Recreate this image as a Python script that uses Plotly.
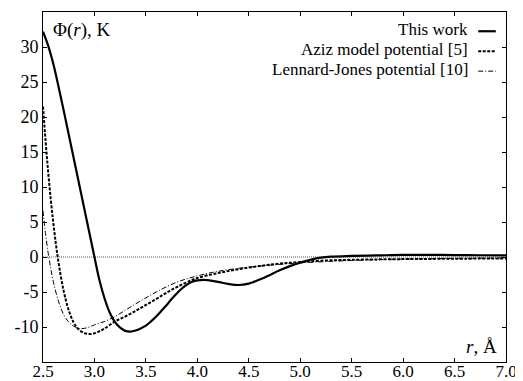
import plotly.graph_objects as go

# ---- data ----
r_this = [2.5, 2.55, 2.6, 2.65, 2.7, 2.75, 2.8, 2.85, 2.9, 2.95, 3.0, 3.05, 3.1, 3.15,
          3.2, 3.25, 3.3, 3.35, 3.4, 3.45, 3.5, 3.55, 3.6, 3.65, 3.7, 3.75, 3.8, 3.85, 3.9, 3.95,
          4.0, 4.1, 4.2, 4.3, 4.4, 4.5, 4.55, 4.6, 4.65, 4.7, 4.8, 4.9, 5.0, 5.1, 5.2, 5.3,
          5.5, 5.75, 6.0, 6.25, 6.5, 6.75, 7.0]
phi_this = [32.2, 30.2, 27.6, 24.4, 21.0, 17.5, 14.0, 10.5, 7.0, 3.5, 0.0, -3.4, -6.0, -8.0,
            -9.3, -10.1, -10.55, -10.65, -10.5, -10.2, -9.8, -9.2, -8.5, -7.7, -6.9, -6.0, -5.2, -4.5, -3.95, -3.55,
            -3.35, -3.3, -3.55, -3.85, -4.0, -3.8, -3.55, -3.25, -2.95, -2.6, -1.9, -1.3, -0.8, -0.4, -0.1, 0.05,
            0.15, 0.22, 0.3, 0.3, 0.28, 0.25, 0.22]

r_aziz = [2.5, 2.525, 2.55, 2.575, 2.6, 2.625, 2.65, 2.7, 2.75, 2.8, 2.85, 2.9, 2.95, 3.0,
          3.05, 3.1, 3.2, 3.3, 3.4, 3.5, 3.6, 3.7, 3.8, 3.9, 4.0, 4.2, 4.4, 4.6, 4.8, 5.0,
          5.25, 5.5, 6.0, 6.5, 7.0]
phi_aziz = [21.5, 16.6, 12.2, 8.3, 4.9, 1.9, -0.7, -4.8, -7.6, -9.4, -10.4, -10.85, -11.0, -10.9,
            -10.6, -10.2, -9.2, -8.5, -7.7, -6.85, -6.0, -5.1, -4.3, -3.6, -3.0, -2.3, -1.75, -1.3, -0.95, -0.72,
            -0.5, -0.4, -0.3, -0.25, -0.2]

r_lj = [2.5, 2.525, 2.55, 2.575, 2.6, 2.65, 2.7, 2.75, 2.8, 2.85, 2.9, 2.95, 3.0, 3.1,
        3.2, 3.3, 3.4, 3.5, 3.6, 3.8, 4.0, 4.2, 4.5, 5.0, 5.5, 6.0, 6.5, 7.0]
phi_lj = [6.6, 3.3, 0.6, -1.6, -3.5, -6.3, -8.2, -9.3, -9.9, -10.2, -10.2, -10.0, -9.7, -9.2,
          -8.5, -7.6, -6.7, -5.85, -5.0, -3.6, -2.7, -2.05, -1.45, -0.85, -0.5, -0.3, -0.2, -0.15]

x_ticks = [2.5, 3.0, 3.5, 4.0, 4.5, 5.0, 5.5, 6.0, 6.5, 7.0]
x_tick_text = ["2.5", "3.0", "3.5", "4.0", "4.5", "5.0", "5.5", "6.0", "6.5", "7.0"]
y_ticks = [-10, -5, 0, 5, 10, 15, 20, 25, 30]
y_tick_text = ["-10", "-5", "0", "5", "10", "15", "20", "25", "30"]

series_names = ["This work", "Aziz model potential [5]", "Lennard-Jones potential [10]"]

FONT = "Liberation Serif"
styles = [dict(color="black", width=2.2, dash="solid"),
          dict(color="black", width=2.0, dash="3px,1.5px"),
          dict(color="black", width=1.0, dash="5px,2px,1px,2px")]

fig = go.Figure()
for (xs, ys), st, nm in zip([(r_this, phi_this), (r_aziz, phi_aziz), (r_lj, phi_lj)], styles, series_names):
    fig.add_trace(go.Scatter(x=xs, y=ys, mode="lines", name=nm, line=dict(shape="spline", **st),
                             showlegend=False))

# zero reference line
fig.add_shape(type="line", xref="paper", x0=0, x1=1, yref="y", y0=0, y1=0,
              line=dict(color="#555555", width=1, dash="1px,1px"), layer="below")

# manual legend (text right-aligned, sample on the right)
legend_y = [0.949, 0.892, 0.835]
for nm, st, yy in zip(series_names, styles, legend_y):
    fig.add_annotation(text=nm, xref="paper", yref="paper", x=0.922, y=yy, xanchor="right",
                       yanchor="middle", showarrow=False, font=dict(family=FONT, size=17, color="black"))
    fig.add_shape(type="line", xref="paper", yref="paper", x0=0.94, x1=0.978, y0=yy - 0.004, y1=yy - 0.004,
                  line=st)

fig.add_annotation(text="Φ(<i>r</i>), K", xref="paper", yref="paper", x=0.018, y=0.949,
                   xanchor="left", yanchor="middle", showarrow=False,
                   font=dict(family=FONT, size=19, color="black"))
fig.add_annotation(text="<i>r</i>, Å", xref="paper", yref="paper", x=0.985, y=0.045,
                   xanchor="right", yanchor="middle", showarrow=False,
                   font=dict(family=FONT, size=19, color="black"))

axis_common = dict(showline=True, linecolor="black", linewidth=1, mirror="ticks", ticks="inside",
                   ticklen=4, tickcolor="black", tickwidth=1, showgrid=False, zeroline=False,
                   automargin=False, tickfont=dict(family=FONT, size=18, color="black"))
fig.update_xaxes(range=[2.5, 7.0], tickvals=x_ticks, ticktext=x_tick_text,
                 ticklabelstandoff=-6, **axis_common)
fig.update_xaxes(tickfont=dict(family=FONT, size=17, color="black"))
fig.update_yaxes(range=[-15, 35], tickvals=y_ticks, ticktext=y_tick_text, **axis_common)

# page body adds an 8px offset, so the figure is sized to fit inside the window
fig.update_layout(width=515, height=373, margin=dict(l=35, r=17, t=4, b=19, autoexpand=False),
                  plot_bgcolor="white", paper_bgcolor="white", showlegend=False,
                  font=dict(family=FONT, color="black"))
fig.write_html("out.html")
